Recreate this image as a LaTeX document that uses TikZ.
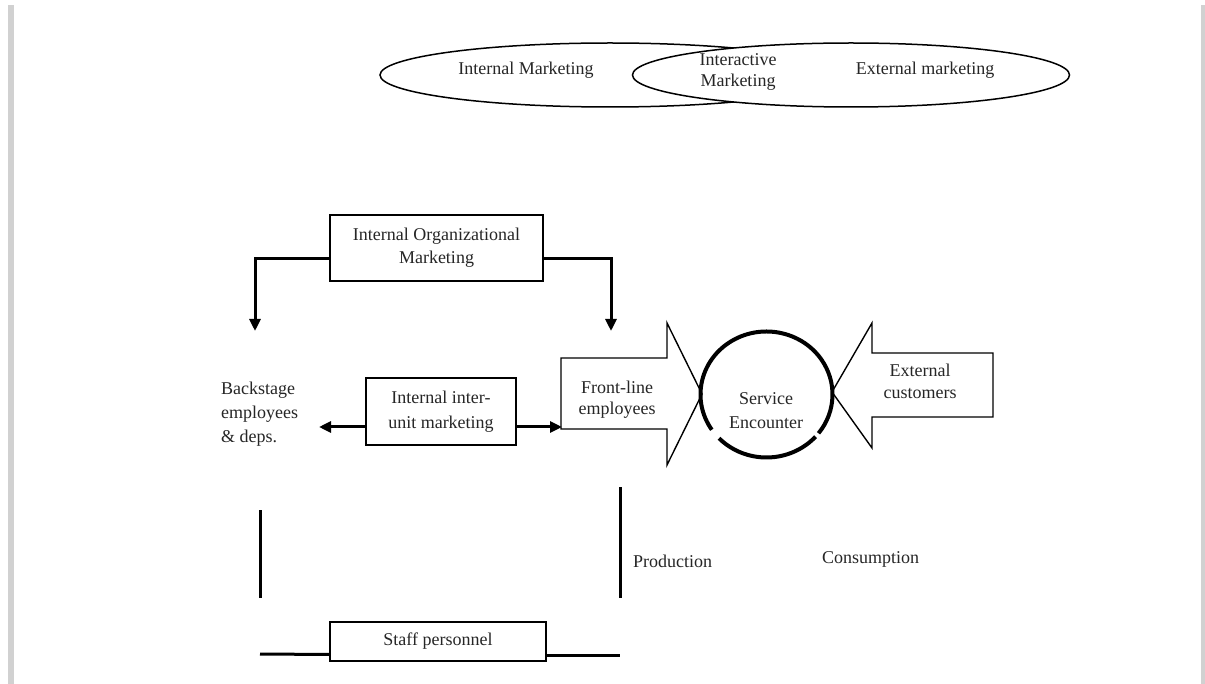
\documentclass[tikz,border=0pt]{standalone}
\usepackage{fontspec}
\setmainfont{Liberation Serif}
\usetikzlibrary{arrows.meta,shapes.geometric,calc}
\begin{document}
\begin{tikzpicture}[x=1pt,y=-1pt,
  txt/.style={font=\fontsize{18}{23}\selectfont, align=center, inner sep=0pt, text=black!85},
  boxed/.style={draw, line width=1.5pt, txt},
  conn/.style={line width=3pt, -{Triangle[length=12pt,width=11pt]}},
  bar/.style={line width=3pt},
  thinline/.style={line width=1.5pt},
  pageedge/.style={fill=black!18, draw=none}]
\useasboundingbox (0,0) rectangle (1205,684);
\fill[white] (0,0) rectangle (1205,684);
% page edges
\path[pageedge] (8,5) rectangle (14,684);
\path[pageedge] (1201,5) rectangle (1205,684);

% ellipses
\node[ellipse, draw, thinline, minimum width=460pt, minimum height=64pt, inner sep=0pt] (e1) at (610,75) {};
\node[ellipse, draw, thinline, fill=white, minimum width=437pt, minimum height=64pt, inner sep=0pt] (e2) at (851,75) {};
\node[txt] (im) at (526,70) {Internal Marketing};
\node[txt, font=\fontsize{18}{21}\selectfont] (ia) at (738,72) {Interactive\\Marketing};
\node[txt] (em) at (925,70) {External marketing};

% internal organizational marketing
\node[boxed, minimum width=213pt, minimum height=66pt] (iom) at (436.5,248) {Internal Organizational\\Marketing};
\coordinate (bt) at (255,331);
\coordinate (ft) at (611,331);
\draw[conn] ([yshift=-11pt]iom.west) -| (bt);
\draw[conn] ([yshift=-11pt]iom.east) -| (ft);

% backstage
\node[txt, anchor=west, align=left, font=\fontsize{18}{24}\selectfont] (bs) at (221,414) {Backstage\\employees\\\& deps.};

% inter-unit
\node[boxed, minimum width=150pt, minimum height=67pt, font=\fontsize{18}{25}\selectfont] (iu) at (441,411.5) {Internal inter-\\unit marketing};
\coordinate (bl) at (319,427);
\coordinate (flin) at (562,427);
\draw[conn] ([yshift=-15.5pt]iu.west) -- (bl);
\draw[conn] ([yshift=-15.5pt]iu.east) -- (flin);

% front-line arrow
\draw[line width=1.4pt, line join=miter] (561,358) -- (667,358) -- (667,323) -- (702,394) -- (667,465) -- (667,429) -- (561,429) -- cycle;
\node[txt, font=\fontsize{18}{21}\selectfont] (fl) at (617,400) {Front-line\\employees};

% external customers arrow
\draw[line width=1.4pt, line join=miter] (993,353) -- (872,353) -- (872,323) -- (832,392) -- (872,448) -- (872,417) -- (993,417) -- cycle;
\node[txt, font=\fontsize{18}{22}\selectfont] (ec) at (920,381) {External\\customers};

% service encounter circle
\coordinate (sc) at (766.5,394.5);
\draw[line width=4pt] (sc) ++(42:66 and 63) arc[start angle=42,end angle=136,x radius=66,y radius=63];
\draw[line width=4pt] (sc) ++(146:66 and 63) arc[start angle=146,end angle=398,x radius=66,y radius=63];
\node[txt, font=\fontsize{18}{24}\selectfont] (se) at (766,411) {Service\\Encounter};

% production / consumption
\coordinate (l1) at (260,510);
\coordinate (l2) at (260,598);
\coordinate (r1) at (620,487);
\coordinate (r2) at (620,598);
\draw[bar] (l1) -- (l2);
\draw[bar] (r1) -- (r2);
\node[txt, anchor=west] (pr) at (633,561) {Production};
\node[txt, anchor=west] (co) at (822,559) {Consumption};

% staff personnel
\node[boxed, minimum width=216pt, minimum height=39pt] (sp) at (438,641.5) {Staff personnel};
\coordinate (sl) at (260,654);
\coordinate (sr) at (620,655);
\draw[bar] (sl) -- ([yshift=-13pt]sp.west);
\draw[bar] ([yshift=-13.5pt]sp.east) -- (sr);
\end{tikzpicture}
\end{document}
